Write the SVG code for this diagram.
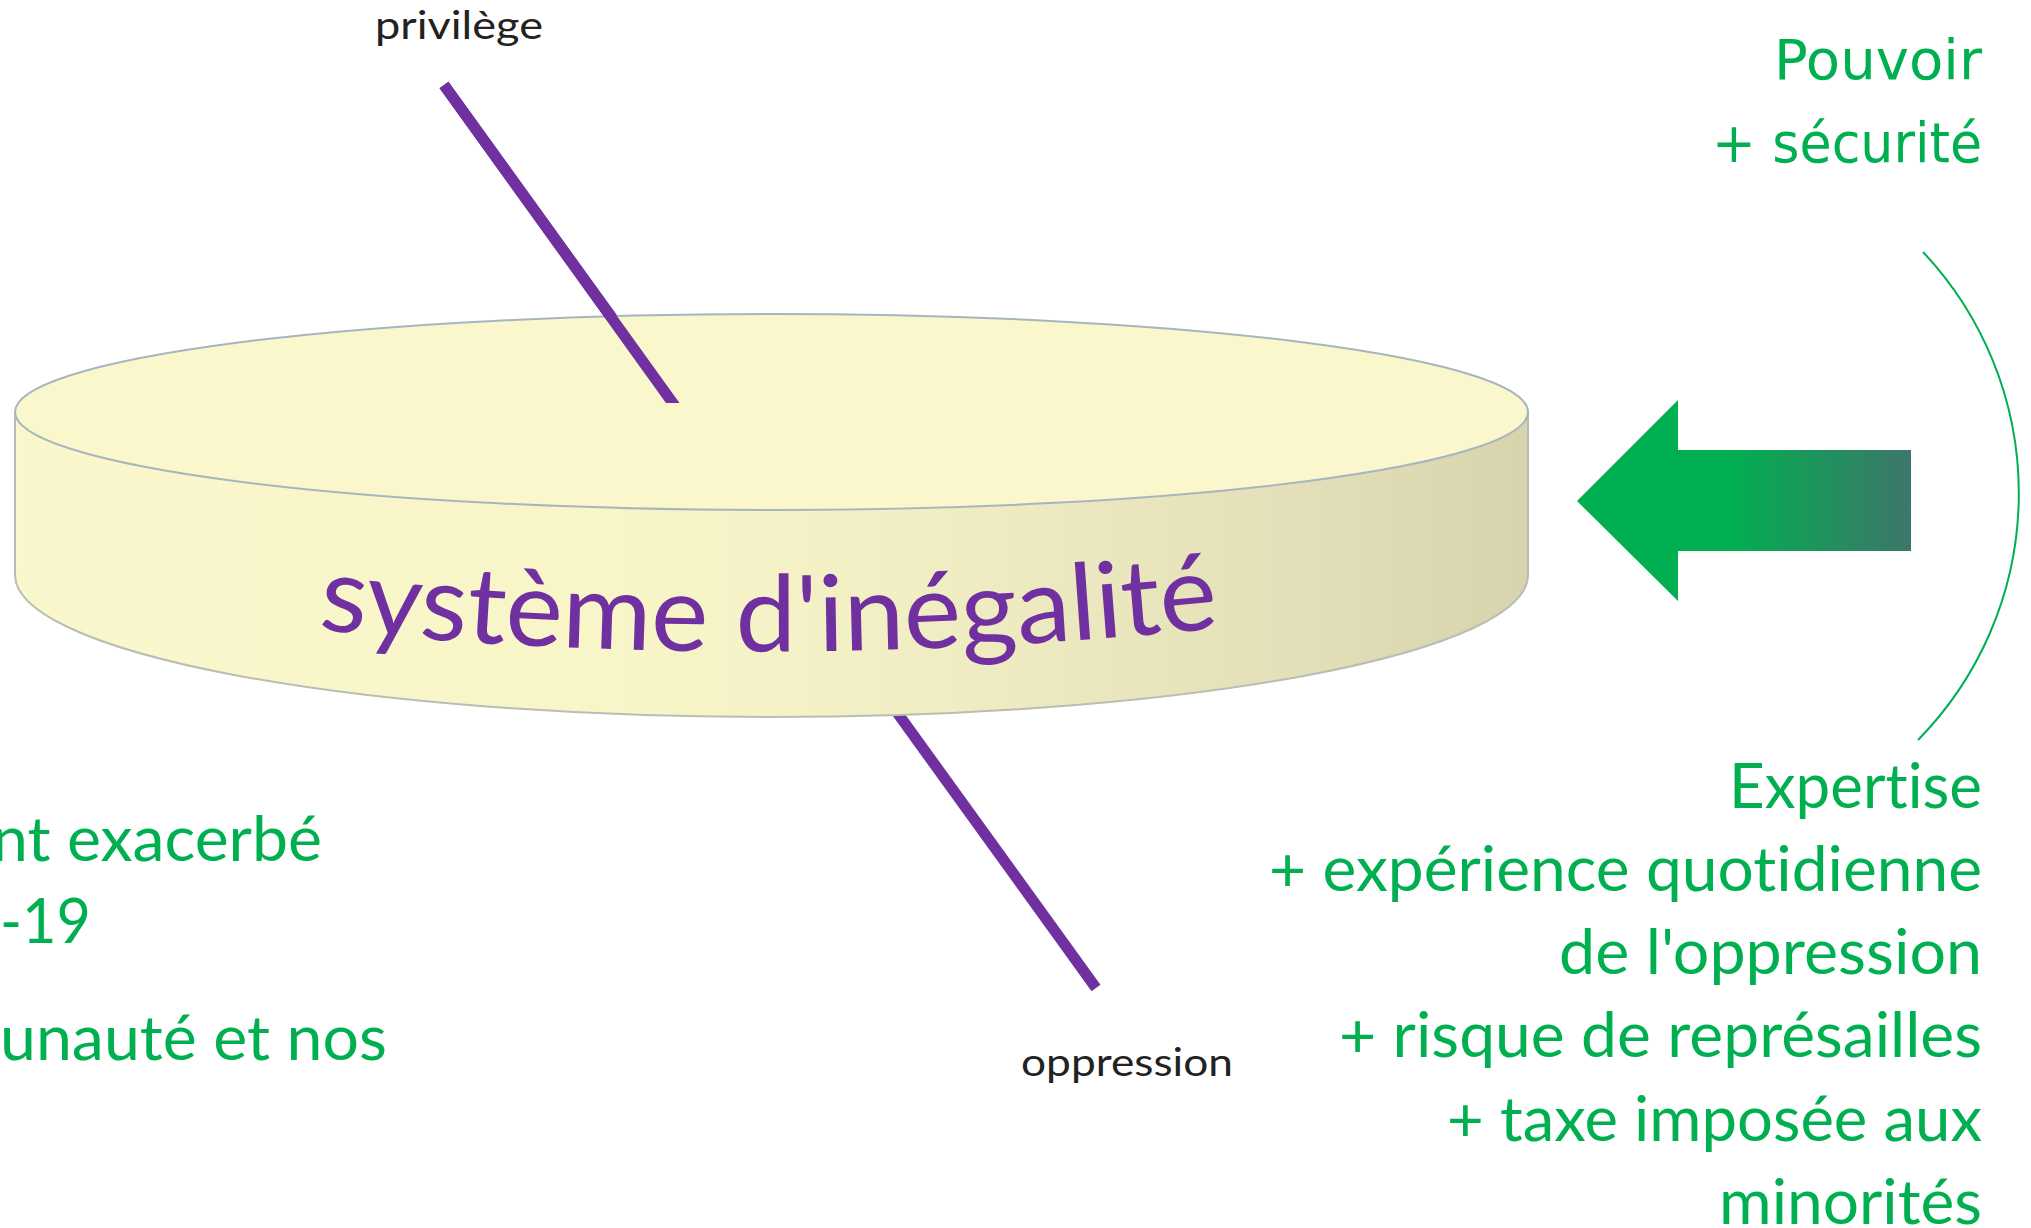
<svg xmlns="http://www.w3.org/2000/svg" width="2031" height="1228" viewBox="0 0 2031 1228">
<style>
text{font-variant-ligatures:none;font-feature-settings:"liga" 0,"dlig" 0}
.g{font-family:Lato,"Open Sans","Liberation Sans",sans-serif;font-size:62px;fill:#00B050}
.v{font-family:"DejaVu Sans",Verdana,sans-serif;font-size:56px;fill:#00B050}
.lbl{font-family:Lato,"Open Sans","Liberation Sans",sans-serif;font-size:38px;fill:#222222}
.bar{stroke:#7030A0;stroke-width:11;fill:none;stroke-linecap:butt}
</style>
<defs>
<linearGradient id="side" x1="15" y1="0" x2="1528" y2="0" gradientUnits="userSpaceOnUse">
<stop offset="0" stop-color="#F9F7CB"/>
<stop offset="0.4" stop-color="#F8F6C9"/>
<stop offset="0.62" stop-color="#F0EDC3"/>
<stop offset="0.85" stop-color="#E3E0B9"/>
<stop offset="1" stop-color="#D6D3AD"/>
</linearGradient>
<linearGradient id="arrowGrad" x1="1577" y1="0" x2="1911" y2="0" gradientUnits="userSpaceOnUse">
<stop offset="0" stop-color="#00B050"/>
<stop offset="0.45" stop-color="#00B050"/>
<stop offset="1" stop-color="#3D766A"/>
</linearGradient>
<clipPath id="topClip"><rect x="0" y="0" width="2031" height="403"/></clipPath>
<path id="curve" d="M310,629 Q769,675 1228,627"/>
</defs>

<g id="connectors">
<line class="bar" x1="444" y1="85" x2="1096" y2="988"/>
</g>

<g id="disk">
<path d="M15,412 L15,575 A756.5,142 0 0 0 1528,575 L1528,412 Z" fill="url(#side)" stroke="#B9BEB2" stroke-width="2"/>
<ellipse cx="771.5" cy="412" rx="756.5" ry="98" fill="#F9F7CB" stroke="#A7B6BE" stroke-width="2"/>
<text font-family="Lato,'Open Sans','Liberation Sans',sans-serif" font-size="106" fill="#7030A0"><textPath href="#curve" startOffset="8" textLength="903" lengthAdjust="spacingAndGlyphs">système d'inégalité</textPath></text>
</g>

<g id="privilege-bar">
<line class="bar" x1="444" y1="85" x2="690" y2="427" clip-path="url(#topClip)"/>
</g>

<g id="label-privilege">
<text class="lbl" x="375" y="39" textLength="168" lengthAdjust="spacingAndGlyphs">privilège</text>
</g>
<g id="label-oppression">
<text class="lbl" x="1021" y="1076" textLength="212" lengthAdjust="spacingAndGlyphs">oppression</text>
</g>

<g id="arrow">
<polygon points="1577,501 1678,400 1678,450 1911,450 1911,551 1678,551 1678,601" fill="url(#arrowGrad)"/>
</g>

<g id="bracket">
<path d="M1923,252 A352,352 0 0 1 1918,740" fill="none" stroke="#00B050" stroke-width="2"/>
</g>

<g id="power">
<text class="v" x="1774" y="79" textLength="208" lengthAdjust="spacingAndGlyphs">Pouvoir</text>
<text class="v" x="1712" y="162" textLength="270" lengthAdjust="spacingAndGlyphs">+ sécurité</text>
</g>

<g id="expertise">
<text class="g" x="1729" y="808" textLength="253" lengthAdjust="spacingAndGlyphs">Expertise</text>
<text class="g" x="1269" y="891" textLength="713" lengthAdjust="spacingAndGlyphs">+ expérience quotidienne</text>
<text class="g" x="1559" y="974" textLength="423" lengthAdjust="spacingAndGlyphs">de l'oppression</text>
<text class="g" x="1339" y="1057" textLength="643" lengthAdjust="spacingAndGlyphs">+ risque de représailles</text>
<text class="g" x="1447" y="1141" textLength="535" lengthAdjust="spacingAndGlyphs">+ taxe imposée aux</text>
<text class="g" x="1719" y="1224" textLength="263" lengthAdjust="spacingAndGlyphs">minorités</text>
</g>

<g id="left-text">
<text class="g" x="-8" y="861" textLength="330" lengthAdjust="spacingAndGlyphs">nt exacerbé</text>
<text class="g" x="0" y="943" textLength="91" lengthAdjust="spacingAndGlyphs">-19</text>
<text class="g" x="0" y="1060" textLength="387" lengthAdjust="spacingAndGlyphs">unauté et nos</text>
</g>
</svg>
